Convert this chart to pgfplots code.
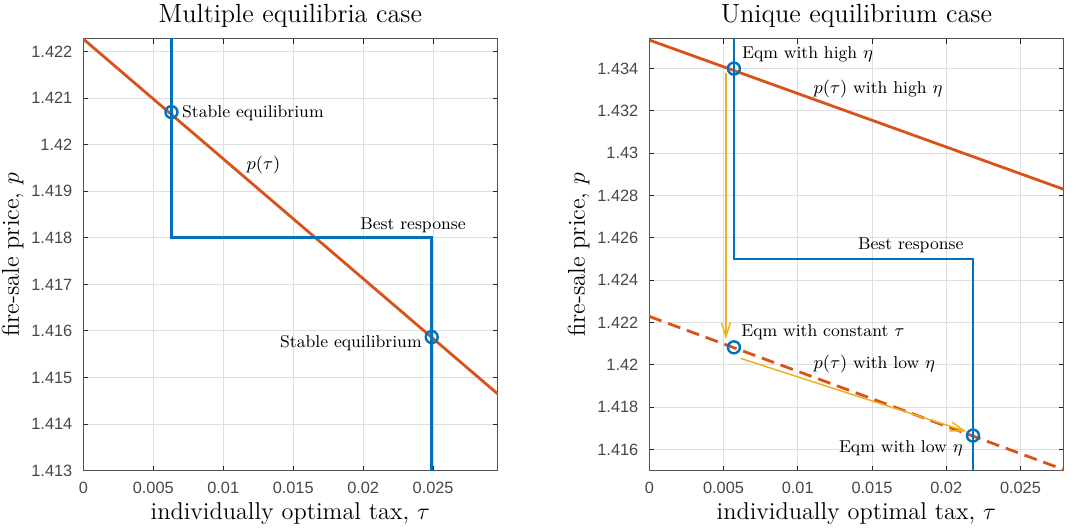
\documentclass[border=0pt]{standalone}
\usepackage{fontspec}
\newfontfamily\ticksf{Liberation Sans}
\usepackage{pgfplots}
\pgfplotsset{compat=1.18}
\usetikzlibrary{arrows.meta}

\definecolor{mblue}{rgb}{0,0.447,0.741}
\definecolor{morange}{rgb}{0.850,0.325,0.098}
\definecolor{myellow}{rgb}{0.929,0.694,0.125}
\definecolor{axgray}{rgb}{0.15,0.15,0.15}
\definecolor{gridgray}{rgb}{0.87,0.87,0.87}

\pgfplotsset{
  panel/.style={
    scale only axis, width=207.1bp, height=215.85bp,
    axis line style={axgray!80, line width=0.5bp},
    tick style={axgray, line width=0.5bp},
    major tick length=2.5bp,
    tick align=inside,
    grid=major, major grid style={gridgray, line width=0.5bp},
    scaled ticks=false,
    ticklabel style={font=\ticksf\fontsize{8.2}{9}\selectfont, text=axgray!85},
    /pgf/number format/assume math mode=true,
    xticklabel style={/pgf/number format/fixed, /pgf/number format/precision=3, yshift=-2bp},
    yticklabel style={/pgf/number format/fixed, /pgf/number format/precision=3, xshift=-2bp},
    xtick={0,0.005,0.01,0.015,0.02,0.025},
    xlabel={individually optimal tax, $\tau$},
    ylabel={fire-sale price, $p$},
    label style={font=\fontsize{12.2}{14}\selectfont},
    xlabel style={at={(axis description cs:0.5,-0.1142)}, anchor=base},
    ylabel style={at={(axis description cs:-0.127,0.5)}, anchor=south},
    every axis title/.style={at={(axis description cs:0.5,1.0378)}, anchor=base, font=\fontsize{13.2}{15}\selectfont},
  },
  br/.style={mblue, line width=1.4bp},
  pline/.style={morange, line width=1.4bp},
  eqm/.style={only marks, mark=o, mark size=3bp, mblue, line width=1.2bp},
  arr/.style={myellow, line width=0.75bp, -{Straight Barb[length=7bp, width=4.5bp]}},
}
\tikzset{ann/.style={inner sep=0pt, font=\fontsize{8.6}{10}\selectfont}}

\begin{document}
\begin{tikzpicture}
\useasboundingbox (0,0) rectangle (545.5bp,265.5bp);

% left panel
\begin{axis}[panel, at={(41.65bp,30.15bp)}, anchor=south west,
  title={Multiple equilibria case},
  xmin=0, xmax=0.0296, ymin=1.413, ymax=1.42227,
  ytick={1.413,1.414,1.415,1.416,1.417,1.418,1.419,1.42,1.421,1.422}]
  \addplot[pline] coordinates {(0,1.42227) (0.03,1.41455)};
  \addplot[br] coordinates {(0.0063,1.4235) (0.0063,1.418) (0.0249,1.418) (0.0249,1.4125)};
  \addplot[eqm] coordinates {(0.0063,1.4207) (0.0249,1.41587)};
  \node[ann, anchor=base west] at (axis cs:0.00704,1.42059) {Stable equilibrium};
  \node[ann, anchor=base] at (axis cs:0.01288,1.41946) {$p(\tau)$};
  \node[ann, anchor=base] at (axis cs:0.02356,1.41817) {Best response};
  \node[ann, anchor=base east] at (axis cs:0.02421,1.41565) {Stable equilibrium};
\end{axis}

% right panel
\begin{axis}[panel, at={(324.65bp,30.15bp)}, anchor=south west,
  title={Unique equilibrium case},
  xmin=0, xmax=0.0279, ymin=1.415, ymax=1.4354,
  ytick={1.416,1.418,1.42,1.422,1.424,1.426,1.428,1.43,1.432,1.434}]
  \addplot[pline] coordinates {(0,1.43535) (0.03,1.42777)};
  \addplot[pline, dash pattern=on 6.5bp off 3.5bp] coordinates {(0,1.42229) (0.03,1.41451)};
  \addplot[br] coordinates {(0.0057,1.437) (0.0057,1.425) (0.0218,1.425) (0.0218,1.414)};
  \addplot[arr] coordinates {(0.00516,1.4338) (0.00516,1.42122)};
  \addplot[arr] coordinates {(0.00615,1.42031) (0.02136,1.41685)};
  \addplot[eqm] coordinates {(0.0057,1.434) (0.0057,1.42083) (0.0218,1.41666)};
  \node[ann, anchor=base west] at (axis cs:0.00622,1.43446) {Eqm with high $\eta$};
  \node[ann, anchor=base west] at (axis cs:0.01104,1.43282) {$p(\tau)$ with high $\eta$};
  \node[ann, anchor=base] at (axis cs:0.01761,1.42543) {Best response};
  \node[ann, anchor=base west] at (axis cs:0.00617,1.42133) {Eqm with constant $\tau$};
  \node[ann, anchor=base west] at (axis cs:0.01104,1.41983) {$p(\tau)$ with low $\eta$};
  \node[ann, anchor=base east] at (axis cs:0.02113,1.41587) {Eqm with low $\eta$};
\end{axis}
\end{tikzpicture}
\end{document}
